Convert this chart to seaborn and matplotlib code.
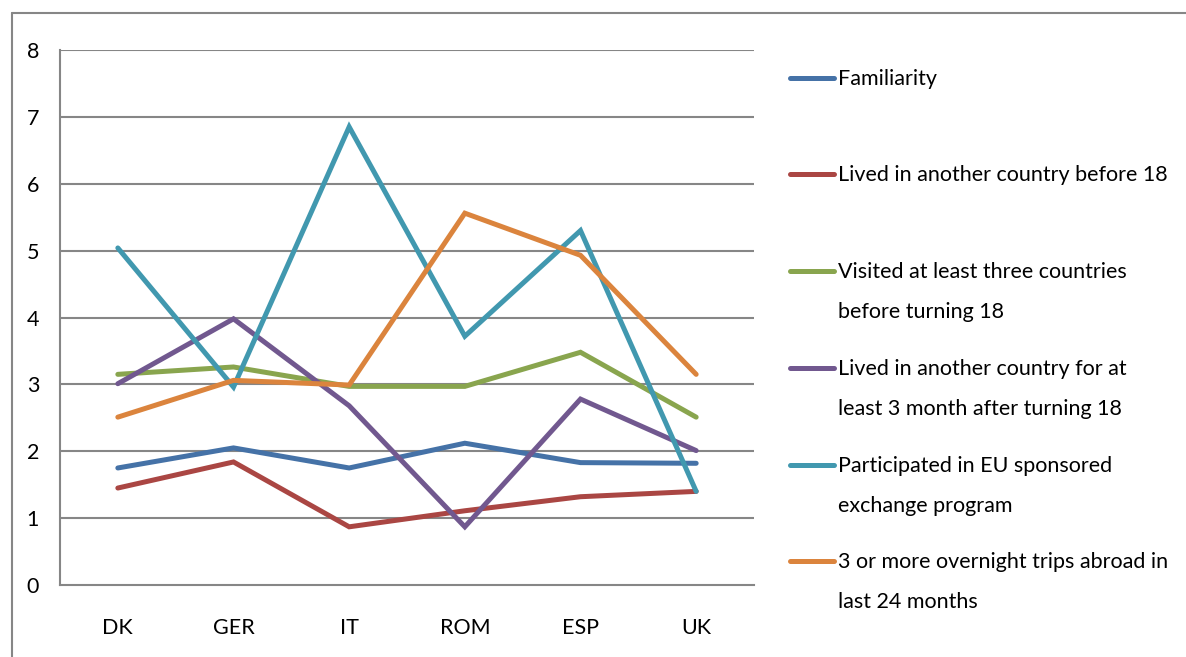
import matplotlib
matplotlib.use("Agg")
import matplotlib.pyplot as plt
from matplotlib.lines import Line2D
import seaborn as sns
import pandas as pd
import numpy as np

categories = ["DK", "GER", "IT", "ROM", "ESP", "UK"]
familiarity = [1.75, 2.05, 1.75, 2.12, 1.83, 1.82]
lived_before_18 = [1.45, 1.84, 0.87, 1.11, 1.32, 1.40]
visited_three = [3.15, 3.26, 2.97, 2.97, 3.48, 2.51]
lived_after_18 = [3.01, 3.98, 2.68, 0.87, 2.78, 2.01]
eu_exchange = [5.04, 2.96, 6.85, 3.72, 5.30, 1.40]
overnight_trips = [2.51, 3.06, 2.99, 5.56, 4.93, 3.15]

series_labels = [
    "Familiarity",
    "Lived in another country before 18",
    "Visited at least three countries\nbefore turning 18",
    "Lived in another country for at\nleast 3 month after turning 18",
    "Participated in EU sponsored\nexchange program",
    "3 or more overnight trips abroad in\nlast 24 months",
]
series_values = [familiarity, lived_before_18, visited_three,
                 lived_after_18, eu_exchange, overnight_trips]
colors = ["#4572A7", "#AA4643", "#89A54E", "#71588F", "#4198AF", "#DB843D"]

rows = []
for lab, vals in zip(series_labels, series_values):
    for i, (c, v) in enumerate(zip(categories, vals)):
        rows.append({"series": lab, "x": i, "cat": c, "value": v})
df = pd.DataFrame(rows)

sns.set_style("white")
font = ["Lato", "DejaVu Sans"]
plt.rcParams["font.family"] = font
FS = 15.5

W, H = 1186, 657
fig = plt.figure(figsize=(W / 100, H / 100), dpi=100)
ax = fig.add_axes([60 / W, 1 - 585 / H, (754 - 60) / W, (585 - 50) / H])

grid_color = "#868686"
for yv in range(1, 9):
    ax.axhline(yv, color=grid_color, lw=1.5, zorder=0)

sns.lineplot(data=df, x="x", y="value", hue="series", palette=colors,
             hue_order=series_labels, linewidth=3.6, ax=ax, legend=False,
             sort=False)
for ln in ax.lines[-6:]:
    ln.set_solid_capstyle("round")
    ln.set_solid_joinstyle("miter")

ax.set_xlim(-0.5, 5.5)
ax.set_ylim(0, 8)
ax.set_xticks(range(len(categories)))
ax.set_xticklabels(categories)
ax.set_xticks(np.arange(-0.5, 6.0, 1.0), minor=True)
ax.tick_params(axis="x", which="major", length=0, pad=24, labelsize=FS, labelcolor="#000000")
ax.tick_params(axis="x", which="minor", length=6, width=1.5, color=grid_color, direction="out")
ax.set_yticks(range(0, 9))
ax.tick_params(axis="y", which="major", length=5, width=1.5, color=grid_color,
               direction="out", pad=10, labelsize=FS, labelcolor="#000000")
ax.set_xlabel("")
ax.set_ylabel("")
for side in ["top", "right"]:
    ax.spines[side].set_visible(False)
for side in ["left", "bottom"]:
    ax.spines[side].set_color(grid_color)
    ax.spines[side].set_linewidth(1.5)

# legend (Excel-like, evenly spaced entries)
legend_y = [78, 174, 271, 368, 465, 561]
for lab, col, yy in zip(series_labels, colors, legend_y):
    fy = 1 - yy / H
    fig.add_artist(Line2D([790 / W, 834 / W], [fy, fy], color=col, lw=3.6,
                          solid_capstyle="round", transform=fig.transFigure))
    fig.text(838 / W, fy + 9 / H, lab, ha="left", va="top", fontsize=FS,
             linespacing=2.25, color="#000000", family=font)

# outer chart frame
fig.add_artist(Line2D([12 / W, 12 / W], [0, 1 - 13 / H], color=grid_color, lw=1.5,
                      transform=fig.transFigure))
fig.add_artist(Line2D([12 / W, 1], [1 - 13 / H, 1 - 13 / H], color=grid_color, lw=1.5,
                      transform=fig.transFigure))

fig.savefig("out.png", dpi=100)
